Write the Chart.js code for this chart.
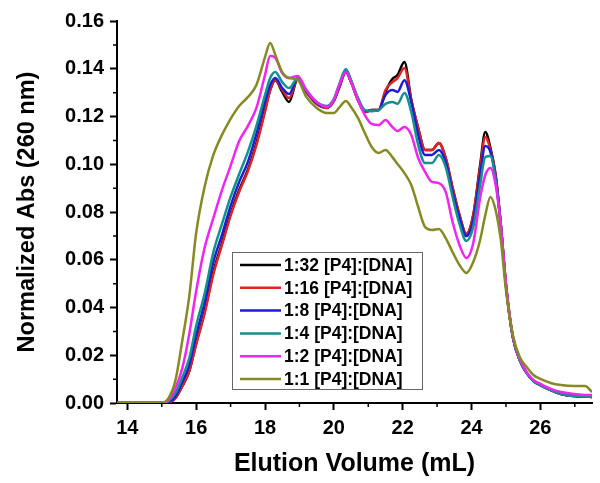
<!DOCTYPE html>
<html>
<head>
<meta charset="utf-8">
<script src="https://cdn.jsdelivr.net/npm/chart.js@4.4.1/dist/chart.umd.min.js"></script>
<style>
  html, body { margin: 0; padding: 0; background: #fff; }
  #wrap { width: 600px; height: 483px; position: relative; }
</style>
</head>
<body>
<div id="wrap"><canvas id="secChart" width="600" height="483"></canvas></div>
<script>
// elution volume (mL) sampled along the traces
const volumes = [13.7, 15.0, 15.2, 15.4, 15.6, 15.8, 16.0, 16.25, 16.5, 16.75, 17.0, 17.25, 17.5, 17.75, 18.0, 18.15, 18.3, 18.5, 18.7, 18.95, 19.2, 19.5, 19.8, 20.0, 20.15, 20.35, 20.5, 20.7, 20.9, 21.1, 21.3, 21.5, 21.7, 21.85, 22.05, 22.25, 22.45, 22.65, 22.85, 23.05, 23.25, 23.45, 23.65, 23.85, 24.05, 24.25, 24.4, 24.55, 24.7, 24.85, 25.0, 25.2, 25.4, 25.6, 25.8, 26.0, 26.3, 26.6, 27.0, 27.3, 27.5];

// normalized absorbance at 260 nm
const ratio1to32 = [0, 0, 0.0002, 0.0021, 0.0071, 0.0134, 0.0251, 0.0385, 0.0549, 0.0670, 0.0792, 0.0892, 0.0976, 0.1089, 0.1227, 0.1311, 0.1352, 0.1303, 0.1261, 0.1357, 0.1303, 0.1253, 0.1236, 0.1265, 0.1319, 0.1386, 0.1344, 0.1269, 0.1219, 0.1227, 0.1227, 0.1303, 0.1357, 0.1374, 0.1428, 0.1269, 0.1152, 0.1060, 0.1060, 0.1089, 0.1026, 0.0901, 0.0787, 0.0708, 0.0787, 0.0997, 0.1135, 0.1068, 0.0955, 0.0746, 0.0494, 0.0276, 0.0180, 0.0126, 0.0092, 0.0075, 0.0054, 0.0038, 0.0029, 0.0027, 0.0025];
const ratio1to16 = [0, 0, 0.0002, 0.0021, 0.0071, 0.0134, 0.0245, 0.0378, 0.0540, 0.0662, 0.0785, 0.0885, 0.0970, 0.1080, 0.1220, 0.1311, 0.1352, 0.1311, 0.1277, 0.1357, 0.1303, 0.1253, 0.1236, 0.1265, 0.1319, 0.1386, 0.1344, 0.1269, 0.1219, 0.1227, 0.1227, 0.1311, 0.1344, 0.1361, 0.1403, 0.1269, 0.1152, 0.1060, 0.1060, 0.1089, 0.1026, 0.0901, 0.0787, 0.0708, 0.0787, 0.0984, 0.1114, 0.1060, 0.0955, 0.0746, 0.0494, 0.0276, 0.0180, 0.0126, 0.0092, 0.0075, 0.0054, 0.0038, 0.0029, 0.0027, 0.0025];
const ratio1to8 = [0, 0, 0.0004, 0.0029, 0.0088, 0.0159, 0.0285, 0.0423, 0.0591, 0.0704, 0.0825, 0.0926, 0.1009, 0.1127, 0.1261, 0.1332, 0.1361, 0.1319, 0.1294, 0.1361, 0.1307, 0.1257, 0.1240, 0.1269, 0.1324, 0.1391, 0.1349, 0.1274, 0.1223, 0.1223, 0.1227, 0.1290, 0.1311, 0.1303, 0.1352, 0.1261, 0.1123, 0.1039, 0.1039, 0.1060, 0.1009, 0.0884, 0.0775, 0.0699, 0.0766, 0.0955, 0.1076, 0.1051, 0.0942, 0.0746, 0.0494, 0.0276, 0.0180, 0.0126, 0.0092, 0.0075, 0.0054, 0.0038, 0.0029, 0.0027, 0.0025];
const ratio1to4 = [0, 0, 0.0008, 0.0042, 0.0109, 0.0188, 0.0323, 0.0461, 0.0632, 0.0750, 0.0863, 0.0959, 0.1051, 0.1160, 0.1290, 0.1361, 0.1386, 0.1344, 0.1319, 0.1361, 0.1311, 0.1261, 0.1244, 0.1274, 0.1332, 0.1399, 0.1352, 0.1278, 0.1227, 0.1223, 0.1227, 0.1253, 0.1261, 0.1253, 0.1298, 0.1219, 0.1081, 0.1005, 0.1005, 0.1039, 0.0988, 0.0863, 0.0750, 0.0679, 0.0737, 0.0913, 0.1030, 0.1035, 0.0934, 0.0746, 0.0494, 0.0276, 0.0180, 0.0126, 0.0092, 0.0075, 0.0054, 0.0038, 0.0029, 0.0027, 0.0025];
const ratio1to2 = [0, 0, 0.0013, 0.0063, 0.0147, 0.0289, 0.0469, 0.0653, 0.0775, 0.0892, 0.0993, 0.1097, 0.1160, 0.1236, 0.1374, 0.1453, 0.1445, 0.1382, 0.1361, 0.1370, 0.1311, 0.1261, 0.1240, 0.1269, 0.1328, 0.1386, 0.1344, 0.1269, 0.1206, 0.1169, 0.1164, 0.1185, 0.1156, 0.1139, 0.1156, 0.1123, 0.1026, 0.0968, 0.0926, 0.0921, 0.0884, 0.0758, 0.0662, 0.0607, 0.0670, 0.0859, 0.0955, 0.0984, 0.0913, 0.0746, 0.0503, 0.0281, 0.0184, 0.0130, 0.0096, 0.0080, 0.0059, 0.0046, 0.0038, 0.0034, 0.0034];
const ratio1to1 = [0, 0, 0.0021, 0.0096, 0.0264, 0.0448, 0.0712, 0.0909, 0.1039, 0.1123, 0.1190, 0.1244, 0.1281, 0.1332, 0.1449, 0.1508, 0.1458, 0.1386, 0.1361, 0.1353, 0.1282, 0.1236, 0.1215, 0.1215, 0.1236, 0.1265, 0.1240, 0.1194, 0.1131, 0.1072, 0.1047, 0.1060, 0.1030, 0.1001, 0.0963, 0.0913, 0.0821, 0.0737, 0.0725, 0.0729, 0.0691, 0.0632, 0.0578, 0.0545, 0.0591, 0.0683, 0.0787, 0.0863, 0.0808, 0.0683, 0.0473, 0.0285, 0.0193, 0.0151, 0.0117, 0.0101, 0.0084, 0.0075, 0.0071, 0.0071, 0.0046];

const seriesLabels = ["1:32 [P4]:[DNA]", "1:16 [P4]:[DNA]", "1:8 [P4]:[DNA]", "1:4 [P4]:[DNA]", "1:2 [P4]:[DNA]", "1:1 [P4]:[DNA]"];
const seriesValues = [ratio1to32, ratio1to16, ratio1to8, ratio1to4, ratio1to2, ratio1to1];
const seriesColors = ["#000000", "#e32222", "#1c1cd6", "#14908e", "#f025ef", "#878a22"];

// tick labels
const xTicks = [14, 16, 18, 20, 22, 24, 26];
const xMinorTicks = [15, 17, 19, 21, 23, 25, 27];
const yTicks = [0, 0.02, 0.04, 0.06, 0.08, 0.10, 0.12, 0.14, 0.16];
const yMinorTicks = [0.01, 0.03, 0.05, 0.07, 0.09, 0.11, 0.13, 0.15];

const FONT = "'Liberation Sans', Arial, sans-serif";

// minor ticks, drawn through the scales
const minorTickPlugin = {
  id: "minorTicks",
  afterDraw(chart) {
    const { ctx, scales } = chart;
    const x = scales.x, y = scales.y;
    ctx.save();
    ctx.strokeStyle = "#000";
    ctx.lineWidth = 1.5;
    ctx.beginPath();
    xMinorTicks.forEach((v) => {
      const px = x.getPixelForValue(v);
      ctx.moveTo(px, x.top);
      ctx.lineTo(px, x.top + 4);
    });
    yMinorTicks.forEach((v) => {
      const py = y.getPixelForValue(v);
      ctx.moveTo(y.right, py);
      ctx.lineTo(y.right - 4, py);
    });
    ctx.stroke();
    ctx.restore();
  },
};

// boxed legend inside the plot
const boxLegendPlugin = {
  id: "boxLegend",
  afterDraw(chart) {
    const ctx = chart.ctx;
    const left = 232, top = 252, width = 190, height = 137;
    ctx.save();
    ctx.strokeStyle = "#666";
    ctx.lineWidth = 1;
    ctx.strokeRect(left + 0.5, top + 0.5, width, height);
    ctx.font = "bold 17.5px " + FONT;
    ctx.textBaseline = "middle";
    ctx.fillStyle = "#000";
    seriesLabels.forEach((label, i) => {
      const rowY = top + 13 + i * 22.8;
      ctx.strokeStyle = seriesColors[i];
      ctx.lineWidth = 2.5;
      ctx.beginPath();
      ctx.moveTo(left + 8, rowY);
      ctx.lineTo(left + 49, rowY);
      ctx.stroke();
      ctx.fillText(label, left + 52, rowY + 1);
    });
    ctx.restore();
  },
};

const datasets = seriesLabels.map((label, i) => ({
  label: label,
  data: volumes.map((v, j) => ({ x: v, y: seriesValues[i][j] })),
  borderColor: seriesColors[i],
  borderWidth: 2.5,
  pointRadius: 0,
  fill: false,
  cubicInterpolationMode: "monotone",
  order: seriesLabels.length - i,
}));

new Chart(document.getElementById("secChart").getContext("2d"), {
  type: "line",
  data: { datasets: datasets },
  options: {
    responsive: false,
    animation: false,
    layout: { padding: { top: 21, right: 8, left: 0, bottom: 0 } },
    plugins: {
      legend: { display: false },
      tooltip: { enabled: false },
    },
    scales: {
      x: {
        type: "linear",
        min: 13.7,
        max: 27.5,
        afterBuildTicks: (scale) => {
          scale.ticks = xTicks.map((v) => ({ value: v }));
        },
        afterFit: (scale) => {
          scale.height = 80;
        },
        border: { color: "#000", width: 2 },
        grid: { drawOnChartArea: false, tickLength: 7, tickColor: "#000", tickWidth: 2 },
        ticks: {
          color: "#000",
          padding: 6,
          maxRotation: 0,
          font: { family: FONT, size: 20, weight: "bold" },
          callback: (v) => String(v),
        },
        title: {
          display: true,
          text: "Elution Volume (mL)",
          color: "#000",
          font: { family: FONT, size: 25, weight: "bold" },
          padding: { top: 8, bottom: 4 },
        },
      },
      y: {
        min: 0,
        max: 0.16,
        afterBuildTicks: (scale) => {
          scale.ticks = yTicks.map((v) => ({ value: v }));
        },
        afterFit: (scale) => {
          scale.width = 117;
        },
        border: { color: "#000", width: 2 },
        grid: { drawOnChartArea: false, tickLength: 7, tickColor: "#000", tickWidth: 2 },
        ticks: {
          color: "#000",
          padding: 6,
          font: { family: FONT, size: 20, weight: "bold" },
          callback: (v) => Number(v).toFixed(2),
        },
        title: {
          display: true,
          text: "Normalized Abs (260 nm)",
          color: "#000",
          font: { family: FONT, size: 23.5, weight: "bold" },
          padding: { top: 13, bottom: 0 },
        },
      },
    },
  },
  plugins: [minorTickPlugin, boxLegendPlugin],
});
</script>
</body>
</html>
